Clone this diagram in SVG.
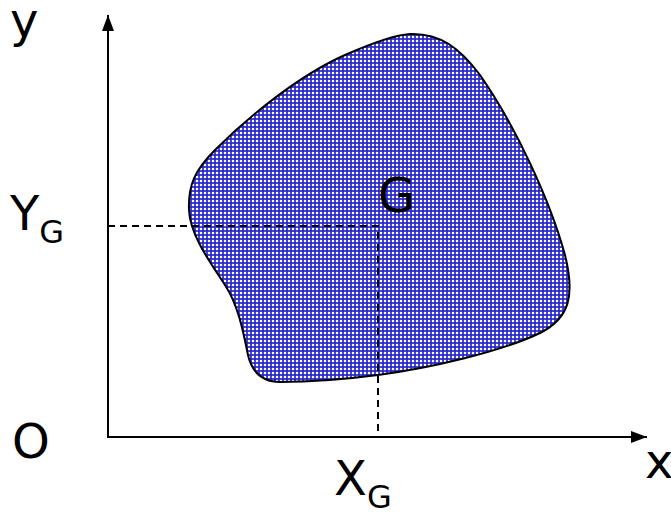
<svg xmlns="http://www.w3.org/2000/svg" width="671" height="513" viewBox="0 0 671 513">
<style>
.lbl{font-family:"DejaVu Sans","Liberation Sans",sans-serif;font-size:48px;fill:#000}
.sub{font-size:32px}
.axis{stroke:#000;stroke-width:2;fill:none}
.dash{stroke:#000;stroke-width:2;stroke-dasharray:7,5;fill:none}
</style>
<defs>
<pattern id="chk" x="0" y="0" width="4" height="4" patternUnits="userSpaceOnUse">
<rect width="4" height="4" fill="#4646d6"/>
<rect x="0" y="0" width="2" height="2" fill="#ffffff"/>
<rect x="2" y="2" width="2" height="2" fill="#2c2cc4"/>
</pattern>
<marker id="arr" viewBox="0 0 16 12" refX="16" refY="6" markerWidth="16" markerHeight="12" markerUnits="userSpaceOnUse" orient="auto">
<path d="M0,0 L16,6 L0,12 Z" fill="#000"/>
</marker>
</defs>
<g id="region">
<path d="M410,34 C440,33 460,48 480,75 C515,125 550,200 565,255 C575,295 570,318 540,333 C500,352 430,368 378,375 C340,380 300,382 280,382 C262,382 252,372 248,355 C243,330 238,305 225,285 C210,262 190,235 189,210 C188,185 195,170 215,150 C250,115 300,75 345,55 C370,44 395,35 410,34 Z" fill="url(#chk)" stroke="#000" stroke-width="2"/>
</g>
<g id="connectors">
<line class="axis" x1="108" y1="437" x2="108" y2="15" marker-end="url(#arr)"/>
<line class="axis" x1="107" y1="437" x2="647" y2="437" marker-end="url(#arr)"/>
<path class="dash" d="M108,226 H378 V437"/>
</g>
<g id="labels">
<text class="lbl" x="10" y="37">y</text>
<text class="lbl" x="10" y="230">Y<tspan class="sub" dy="13">G</tspan></text>
<text class="lbl" x="12" y="458">O</text>
<text class="lbl" x="378" y="212">G</text>
<text class="lbl" x="334" y="495">X<tspan class="sub" dy="13">G</tspan></text>
<text class="lbl" x="645" y="478">x</text>
</g>
</svg>
